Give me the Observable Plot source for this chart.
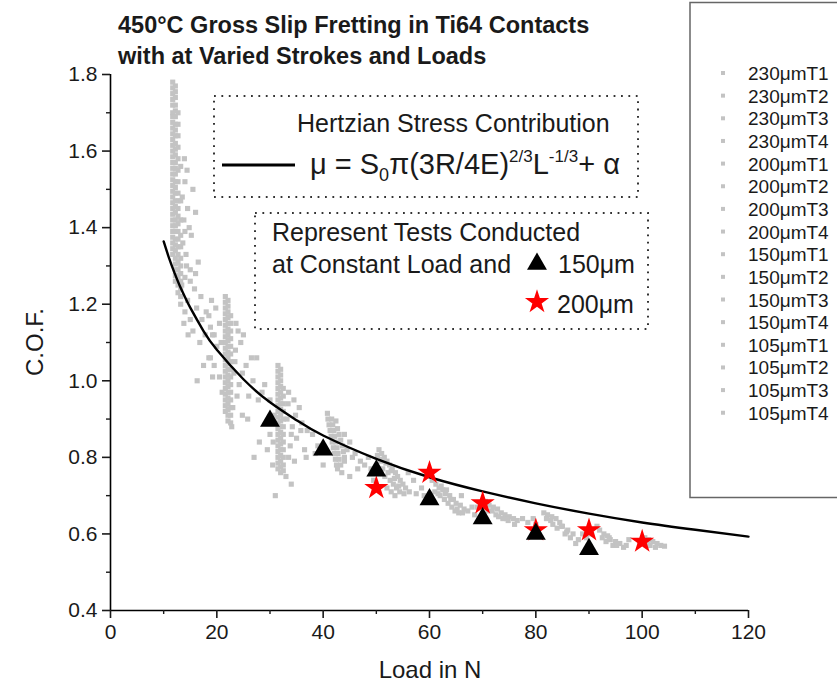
<!DOCTYPE html>
<html><head><meta charset="utf-8">
<script src="https://cdn.jsdelivr.net/npm/d3@7"></script>
<script src="https://cdn.jsdelivr.net/npm/@observablehq/plot@0.6"></script>
<style>
body{margin:0;background:#fff;}
#chart{position:relative;width:837px;height:689px;}
</style></head><body><div id="chart"></div>
<script>
// ---------- data ----------
const seriesNames = ["230μmT1","230μmT2","230μmT3","230μmT4","200μmT1","200μmT2","200μmT3","200μmT4",
  "150μmT1","150μmT2","150μmT3","150μmT4","105μmT1","105μmT2","105μmT3","105μmT4"];
const xTicks = [0,20,40,60,80,100,120];
const xMinor = [10,30,50,70,90,110];
const yTicks = [0.4,0.6,0.8,1.0,1.2,1.4,1.6,1.8];
const yMinor = [0.5,0.7,0.9,1.1,1.3,1.5,1.7];

// constant-load tests, 150 µm (triangles) and 200 µm (stars)
const triLoad = [30,40,50,60,70,80,90];
const triCof  = [0.895,0.82,0.765,0.69,0.64,0.60,0.56];
const starLoad = [50,60,70,80,90,100];
const starCof  = [0.72,0.76,0.68,0.61,0.61,0.58];

// Hertzian fit curve
const curveLoad = [10,11,12,13,14,15,17.5,20,25,30,35,40,50,60,70,80,90,100,110,120];
const curveCof  = [1.364,1.321,1.283,1.249,1.219,1.191,1.130,1.081,1.004,0.944,0.897,0.857,0.796,0.748,0.711,0.680,0.653,0.630,0.611,0.593];

// dense vertical streaks of the stroke tests: one load per column, list of C.O.F. values
const streakLoads = [11.7,12.2,12.7,13.2,21.6,22.1,22.6,31.5,32.0,32.5];
const streak12a = [1.78,1.765,1.75,1.735,1.72,1.70,1.69,1.675,1.66,1.645,1.63,1.615,1.60,1.585,1.57,1.555,1.54,1.525,1.51,1.495,1.48,1.465,1.45,1.435,1.42,1.405,1.39,1.375,1.36,1.345,1.33];
const streak12b = [1.77,1.755,1.74,1.72,1.705,1.69,1.67,1.655,1.64,1.62,1.605,1.59,1.57,1.555,1.54,1.52,1.505,1.49,1.47,1.455,1.44,1.42,1.405,1.39,1.37,1.355,1.34,1.32,1.305,1.29,1.275,1.26];
const streak12c = [1.70,1.67,1.64,1.61,1.58,1.55,1.52,1.49,1.47,1.45,1.43,1.41,1.39,1.37,1.35,1.33,1.31,1.29,1.27,1.25,1.23];
const streak12d = [1.56,1.47,1.42,1.38,1.35,1.32,1.30,1.28,1.26,1.24,1.22,1.20];
const streak22a = [1.22,1.205,1.19,1.175,1.16,1.145,1.13,1.115,1.10,1.085,1.07,1.055,1.04,1.025,1.01,0.995,0.98,0.965,0.95,0.935,0.92];
const streak22b = [1.21,1.195,1.18,1.165,1.15,1.135,1.12,1.105,1.09,1.075,1.06,1.045,1.03,1.015,1.00,0.985,0.97,0.955,0.94,0.925,0.91,0.895];
const streak22c = [1.17,1.15,1.13,1.11,1.09,1.07,1.05,1.03,1.01,0.99,0.97,0.95,0.93,0.91,0.89];
const streak32a = [1.04,1.025,1.01,0.995,0.98,0.965,0.95,0.935,0.92,0.905,0.89,0.875,0.86,0.845,0.83,0.815,0.80,0.785,0.77];
const streak32b = [1.03,1.015,1.00,0.985,0.97,0.955,0.94,0.925,0.91,0.895,0.88,0.865,0.85,0.835,0.82,0.805,0.79,0.775,0.76];
const streak32c = [0.98,0.96,0.94,0.92,0.90,0.88,0.86,0.84,0.82,0.80,0.78,0.765];
const streakCofs = [streak12a,streak12b,streak12c,streak12d,streak22a,streak22b,streak22c,streak32a,streak32b,streak32c];

// scattered points and blobs: [load, C.O.F.]
const scatter12 = [[14.0,1.52],[15.5,1.50],[14.5,1.45],[13.8,1.42],[16.0,1.44],[14.8,1.40],[15.2,1.38],[13.6,1.36],[14.2,1.33],[16.5,1.31],[15.0,1.29],[14.0,1.27],[13.4,1.25],[15.8,1.24],[17.0,1.22],[14.5,1.21],[16.2,1.19],[18.0,1.18],[17.2,1.16],[18.8,1.14],[15.5,1.13],[19.5,1.12],[16.8,1.10],[20.0,1.09],[13.8,1.15],[14.6,1.12],[18.5,1.06],[17.5,1.04],[19.2,1.01],[16.3,1.00],[14.3,1.30],[15.0,1.26],[16.0,1.28],[14.0,1.18],[15.0,1.16],[17.8,1.12],[13.5,1.48],[14.0,1.39],[13.9,1.58],[14.4,1.55]];
const scatter22 = [[19.0,1.21],[19.8,1.19],[18.5,1.17],[20.5,1.15],[19.2,1.12],[20.8,1.10],[18.8,1.06],[19.5,1.04],[24.0,1.13],[25.0,1.12],[24.5,1.10],[23.5,1.08],[26.5,1.06],[27.5,1.06],[25.5,1.04],[23.2,1.02],[24.2,0.99],[26.0,0.96],[27.8,0.95],[23.0,0.93],[24.8,0.91],[25.8,0.90],[22.8,0.88],[29.0,0.99],[28.5,0.97],[30.0,0.95],[23.6,1.15],[23.4,1.05],[24.8,1.02],[23.8,0.96],[26.8,1.00],[21.0,0.97],[20.5,1.01]];
const scatter32 = [[33.5,0.97],[34.5,0.95],[35.5,0.93],[33.2,0.90],[34.2,0.88],[36.0,0.89],[37.0,0.87],[35.0,0.85],[33.8,0.83],[36.5,0.82],[30.0,0.86],[29.5,0.82],[28.0,0.84],[30.5,0.78],[33.0,0.75],[34.0,0.73],[27.0,0.80],[31.0,0.70],[38.0,0.86],[36.8,0.80],[33.4,0.94],[34.8,0.91],[35.8,0.87],[34.0,0.86],[33.5,0.80],[34.6,0.79],[30.8,0.91],[30.6,0.84]];
const scatter42 = [[40.8,0.915],[40.9,0.90],[41.1,0.885],[41.3,0.87],[41.5,0.855],[41.7,0.84],[41.9,0.825],[42.1,0.81],[42.3,0.795],[42.5,0.78],[42.7,0.77],[41.6,0.90],[41.8,0.885],[42.0,0.87],[42.2,0.855],[42.4,0.84],[42.6,0.825],[42.8,0.81],[43.0,0.795],[43.3,0.78],[42.4,0.895],[42.7,0.875],[43.0,0.86],[43.3,0.845],[43.6,0.83],[43.8,0.815],[44.0,0.80],[44.0,0.86],[45.0,0.84],[44.5,0.82],[46.0,0.81],[45.5,0.80],[44.0,0.79],[47.0,0.79],[46.5,0.77],[43.5,0.76],[45.0,0.75],[39.0,0.83],[38.5,0.81],[40.0,0.78]];
const scatter52 = [[50.5,0.82],[51.0,0.81],[51.5,0.80],[50.8,0.79],[52.0,0.79],[52.5,0.78],[51.2,0.77],[53.0,0.77],[52.2,0.76],[53.6,0.76],[51.6,0.75],[54.0,0.75],[52.6,0.74],[54.5,0.74],[53.2,0.73],[55.0,0.73],[52.0,0.72],[53.8,0.72],[55.5,0.72],[52.8,0.71],[54.4,0.71],[53.5,0.70],[56.2,0.71],[57.0,0.74],[56.0,0.76],[48.5,0.80],[49.0,0.77],[49.5,0.74],[47.8,0.78],[51.8,0.785],[52.8,0.765],[53.4,0.745],[54.2,0.725],[55.2,0.705],[51.0,0.795],[50.2,0.805]];
const scatter62 = [[60.5,0.74],[61.2,0.73],[61.8,0.72],[62.5,0.715],[61.0,0.71],[63.0,0.705],[62.0,0.70],[63.8,0.70],[62.8,0.69],[64.5,0.69],[63.5,0.68],[65.0,0.68],[64.2,0.67],[65.8,0.675],[64.8,0.66],[66.5,0.665],[65.5,0.655],[67.2,0.66],[58.5,0.72],[59.0,0.70],[57.5,0.705],[66.0,0.70],[68.0,0.67],[62.2,0.725],[63.2,0.715],[64.0,0.69],[65.2,0.665],[61.6,0.705],[66.2,0.655]];
const scatter72 = [[70.5,0.685],[71.2,0.675],[72.0,0.67],[71.0,0.66],[72.8,0.665],[73.5,0.655],[72.5,0.65],[74.2,0.65],[75.0,0.645],[73.8,0.64],[75.8,0.64],[76.5,0.635],[74.8,0.635],[69.0,0.67],[68.5,0.65],[77.5,0.64],[76.0,0.625],[71.8,0.66],[73.0,0.645],[74.5,0.64]];
const scatter82 = [[81.5,0.655],[82.2,0.65],[83.0,0.645],[82.0,0.64],[83.8,0.64],[84.5,0.63],[83.2,0.625],[85.0,0.62],[84.0,0.615],[86.0,0.61],[85.5,0.60],[87.0,0.60],[86.5,0.59],[88.0,0.585],[87.5,0.575],[79.5,0.64],[80.0,0.625],[78.5,0.63],[88.8,0.60],[82.8,0.635],[84.8,0.62],[85.8,0.605]];
const scatter92 = [[91.5,0.62],[92.0,0.61],[92.8,0.60],[93.5,0.595],[92.5,0.59],[94.0,0.585],[93.2,0.58],[95.0,0.58],[94.5,0.57],[95.8,0.575],[96.5,0.565],[90.5,0.60],[89.5,0.59],[97.5,0.585],[97.0,0.57],[93.8,0.59],[95.2,0.57]];
const scatter102 = [[100.5,0.59],[101.2,0.585],[102.0,0.58],[101.5,0.57],[102.8,0.575],[103.5,0.57],[102.5,0.565],[104.2,0.568],[99.5,0.575],[101.0,0.575]];

// ---------- build tables ----------
const grayPts = [];
streakLoads.forEach((L, i) => streakCofs[i].forEach(c => grayPts.push({load: L, cof: c})));
[scatter12,scatter22,scatter32,scatter42,scatter52,scatter62,scatter72,scatter82,scatter92,scatter102]
  .forEach(arr => arr.forEach(([L, c]) => grayPts.push({load: L, cof: c})));
const tri = triLoad.map((L, i) => ({load: L, cof: triCof[i]}));
const star = starLoad.map((L, i) => ({load: L, cof: starCof[i]}));
const curve = curveLoad.map((L, i) => ({load: L, cof: curveCof[i]}));

const FONT = "'Liberation Sans', Arial, Helvetica, sans-serif";
const W = 837, H = 689;
const gray = "#c3c3c3";

const plot = Plot.plot({
  width: W, height: H,
  marginLeft: 110, marginRight: 89, marginTop: 74, marginBottom: 79,
  style: {fontFamily: FONT, fontSize: "20px", color: "#1a1a1a", background: "#fff", overflow: "visible"},
  x: {domain: [0, 120]},
  y: {domain: [0.4, 1.8]},
  marks: [
    Plot.dot(grayPts, {x: "load", y: "cof", symbol: "square", r: 2.9, fill: gray, stroke: "none"}),
    Plot.line(curve, {x: "load", y: "cof", stroke: "#000", strokeWidth: 2.4, curve: "natural"}),
    Plot.dot(star, {x: "load", y: "cof", symbol: "star", r: 7.6, fill: "#f00", stroke: "none"}),
    Plot.dot(tri, {x: "load", y: "cof", symbol: "triangle", r: 7.4, fill: "#000", stroke: "none"}),
    Plot.ruleX([0], {stroke: "#000", strokeWidth: 1.6}),
    Plot.ruleY([0.4], {stroke: "#000", strokeWidth: 1.6}),
    Plot.axisX({ticks: xTicks, tickSize: 8, tickPadding: 6, tickFormat: d3.format("d"), label: null, strokeWidth: 1.6, fontSize: 21}),
    Plot.axisX({ticks: xMinor, tickSize: 4, tickFormat: () => "", label: null, strokeWidth: 1.4}),
    Plot.axisY({ticks: yTicks, tickSize: 8, tickPadding: 5, tickFormat: d3.format(".1f"), label: null, strokeWidth: 1.6, fontSize: 21}),
    Plot.axisY({ticks: yMinor, tickSize: 4, tickFormat: () => "", label: null, strokeWidth: 1.4})
  ]
});
document.getElementById("chart").appendChild(plot);

// ---------- overlay texts and boxes ----------
const svg = d3.select(plot);
const g = svg.append("g").attr("font-family", FONT).attr("fill", "#1a1a1a").attr("text-anchor", "start");

// title
g.append("text").attr("x", 118).attr("y", 33).attr("font-size", 23.5).attr("font-weight", "bold")
  .text("450°C Gross Slip Fretting in Ti64 Contacts");
g.append("text").attr("x", 118).attr("y", 64).attr("font-size", 23.5).attr("font-weight", "bold")
  .text("with at Varied Strokes and Loads");

// axis titles
g.append("text").attr("x", 430).attr("y", 678).attr("text-anchor", "middle").attr("font-size", 24).text("Load in N");
g.append("text").attr("transform", "translate(43,342) rotate(-90)").attr("text-anchor", "middle").attr("font-size", 24).text("C.O.F.");

// dotted boxes
const dotted = {stroke: "#333", "stroke-width": 2, "stroke-dasharray": "1.8,5.6", fill: "none"};
const b1 = g.append("rect").attr("x", 214).attr("y", 96).attr("width", 424).attr("height", 101);
const b2 = g.append("rect").attr("x", 255).attr("y", 213).attr("width", 393).attr("height", 116);
[b1, b2].forEach(b => Object.entries(dotted).forEach(([k, v]) => b.attr(k, v)));

g.append("text").attr("x", 297).attr("y", 132).attr("font-size", 25).text("Hertzian Stress Contribution");
g.append("line").attr("x1", 222).attr("x2", 295).attr("y1", 165).attr("y2", 165).attr("stroke", "#000").attr("stroke-width", 3);
const f = g.append("text").attr("x", 310).attr("y", 174).attr("font-size", 29);
f.append("tspan").text("μ = S");
f.append("tspan").attr("font-size", 18).attr("dy", 7).text("0");
f.append("tspan").attr("dy", -7).text("π(3R/4E)");
f.append("tspan").attr("font-size", 17).attr("dy", -12).text("2/3");
f.append("tspan").attr("dy", 12).text("L");
f.append("tspan").attr("font-size", 17).attr("dy", -12).text("-1/3");
f.append("tspan").attr("dy", 12).text("+ α");

g.append("text").attr("x", 272).attr("y", 241).attr("font-size", 25).text("Represent Tests Conducted");
g.append("text").attr("x", 272).attr("y", 273).attr("font-size", 25).text("at Constant Load and");
g.append("path").attr("transform", "translate(537,264)").attr("d", d3.symbol(d3.symbolTriangle, Math.PI * 7.4 * 7.4)()).attr("fill", "#000");
g.append("text").attr("x", 558).attr("y", 273).attr("font-size", 25).text("150μm");
g.append("path").attr("transform", "translate(537,302)").attr("d", d3.symbol(d3.symbolStar, Math.PI * 7.6 * 7.6)()).attr("fill", "#f00");
g.append("text").attr("x", 557).attr("y", 313).attr("font-size", 25).text("200μm");

// legend
g.append("rect").attr("x", 690).attr("y", 2.5).attr("width", 160).attr("height", 495)
  .attr("fill", "none").attr("stroke", "#666").attr("stroke-width", 1.5);
seriesNames.forEach((name, i) => {
  const cy = 73 + i * 22.65;
  g.append("rect").attr("x", 721).attr("y", cy - 2).attr("width", 4).attr("height", 4).attr("fill", gray);
  g.append("text").attr("x", 748).attr("y", cy + 7).attr("font-size", 19).text(name);
});
</script></body></html>
